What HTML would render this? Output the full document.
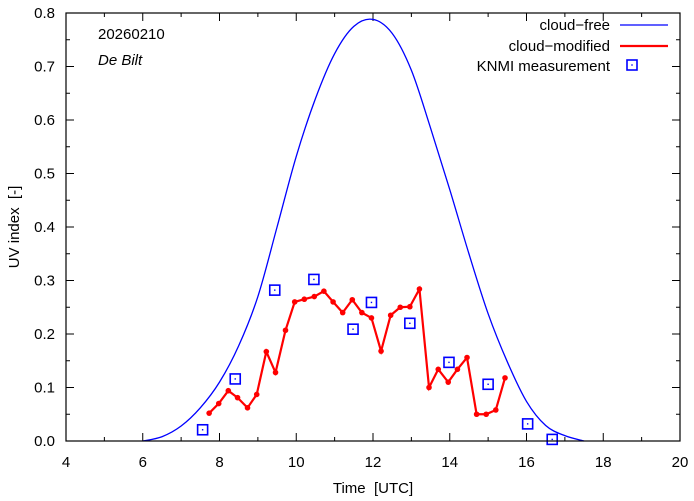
<!DOCTYPE html>
<html><head><meta charset="utf-8"><style>
html,body{margin:0;padding:0;background:#fff}
svg{display:block;font-family:"Liberation Sans",sans-serif}
</style></head><body>
<svg id="chart" width="694" height="501" viewBox="0 0 694 501"></svg>
<script>
const modelTimes=[6.0,6.5,7.0,7.5,8.0,8.5,9.0,9.5,10.0,10.5,11.0,11.5,12.0,12.5,13.0,13.5,14.0,14.5,15.0,15.5,16.0,16.5,17.0,17.5];
const modelValues=[0,0.008,0.028,0.062,0.110,0.178,0.27,0.40,0.532,0.64,0.724,0.775,0.788,0.762,0.693,0.585,0.47,0.35,0.238,0.148,0.074,0.029,0.01,0];
const cloudTimes=[7.73,7.98,8.23,8.47,8.73,8.97,9.22,9.46,9.72,9.96,10.21,10.47,10.72,10.96,11.21,11.46,11.71,11.96,12.21,12.46,12.71,12.96,13.21,13.46,13.70,13.96,14.20,14.45,14.70,14.95,15.20,15.44];
const cloudValues=[0.052,0.070,0.094,0.081,0.062,0.087,0.167,0.128,0.207,0.260,0.265,0.270,0.280,0.260,0.240,0.264,0.240,0.230,0.168,0.235,0.250,0.251,0.284,0.100,0.134,0.110,0.134,0.156,0.050,0.050,0.058,0.118];
const measTimes=[7.56,8.41,9.44,10.46,11.48,11.96,12.96,13.98,15.0,16.03,16.67];
const measValues=[0.021,0.116,0.282,0.302,0.209,0.259,0.220,0.147,0.106,0.032,0.003];
const xTickLabels=[4,6,8,10,12,14,16,18,20];
const yTickLabels=[0,0.1,0.2,0.3,0.4,0.5,0.6,0.7,0.8];

const L=66,R=680,T=13,B=441,NS="http://www.w3.org/2000/svg";
const X=t=>L+(t-4)/16*(R-L);
const Y=v=>B-v/0.8*(B-T);
const svg=document.getElementById('chart');
function mk(tag,attrs,parent){const e=document.createElementNS(NS,tag);for(const k in attrs)e.setAttribute(k,attrs[k]);(parent||svg).appendChild(e);return e;}

const tg=mk('g',{stroke:'#000','stroke-width':1});


for(let h=4;h<=20;h++){const x=X(h),len=(h%2===0)?8:4;
 mk('line',{x1:x,y1:B,x2:x,y2:B-len},tg);mk('line',{x1:x,y1:T,x2:x,y2:T+len},tg);}
for(let i=0;i<=16;i++){const v=i*0.05,y=Y(v),len=(i%2===0)?8:4;
 mk('line',{x1:L,y1:y,x2:L+len,y2:y},tg);mk('line',{x1:R,y1:y,x2:R-len,y2:y},tg);}
xTickLabels.forEach(h=>{const t=mk('text',{x:X(h),y:467,'text-anchor':'middle','font-size':15});t.textContent=h;
 
 });
yTickLabels.forEach(v=>{const t=mk('text',{x:55,y:Y(v)+5,'text-anchor':'end','font-size':15});t.textContent=v.toFixed(1);
 
 });

let pts=modelTimes.map((t,i)=>[X(t),Y(modelValues[i])]);
let d=`M${pts[0][0]},${pts[0][1]}`;
for(let i=0;i<pts.length-1;i++){const p0=pts[Math.max(0,i-1)],p1=pts[i],p2=pts[i+1],p3=pts[Math.min(pts.length-1,i+2)];
 d+=` C${p1[0]+(p2[0]-p0[0])/6},${Math.min(B,p1[1]+(p2[1]-p0[1])/6)} ${p2[0]-(p3[0]-p1[0])/6},${Math.min(B,p2[1]-(p3[1]-p1[1])/6)} ${p2[0]},${p2[1]}`;}
const mc=mk('path',{d:d,fill:'none',stroke:'#0000ff','stroke-width':1.3});



const cl=mk('polyline',{points:cloudTimes.map((t,i)=>X(t)+','+Y(cloudValues[i])).join(' '),fill:'none',stroke:'#ff0000','stroke-width':2.2});


cloudTimes.forEach((t,i)=>{const c=mk('circle',{cx:X(t),cy:Y(cloudValues[i]),r:2.8,fill:'#ff0000'});
 
 });

measTimes.forEach((t,i)=>{const x=X(t),y=Y(measValues[i]);
 const r=mk('rect',{x:x-5,y:y-5,width:10,height:10,fill:'none',stroke:'#0000ff','stroke-width':1.6});
 
 
 mk('rect',{x:x-0.7,y:y-0.7,width:1.4,height:1.4,fill:'#0000ff'});});

const fr=mk('rect',{x:L,y:T,width:R-L,height:B-T,fill:'none',stroke:'#000','stroke-width':1.2});


</script>
<div style="position:absolute;left:0;top:0;width:694px;height:501px;pointer-events:none">
<svg width="694" height="501" style="position:absolute;left:0;top:0">
<text x="98" y="39" font-size="15">20260210</text>
<text x="98" y="65" font-size="15" font-style="italic">De Bilt</text>
<g font-size="15">
<text x="610" y="30" text-anchor="end">cloud−free</text>
<line x1="620" y1="25" x2="668" y2="25" stroke="#0000ff" stroke-width="1.3"/>
<text x="610" y="51" text-anchor="end">cloud−modified</text>
<line x1="620" y1="46" x2="668" y2="46" stroke="#ff0000" stroke-width="2.2"/>
<text x="610" y="71" text-anchor="end">KNMI measurement</text>
<rect x="627" y="60" width="10" height="10" fill="none" stroke="#0000ff" stroke-width="1.6"/>
<rect x="631.3" y="64.3" width="1.4" height="1.4" fill="#0000ff"/>
</g>
<text x="373" y="493" font-size="15" text-anchor="middle">Time &#160;[UTC]</text>
<text transform="translate(19,227) rotate(-90)" font-size="15" text-anchor="middle">UV index &#160;[-]</text>
</svg></div>
</body></html>
